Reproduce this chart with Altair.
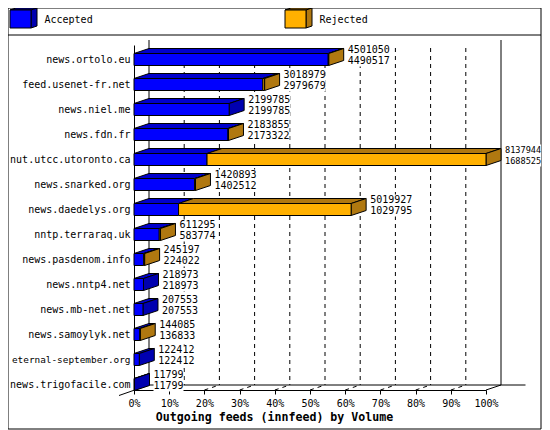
import json
import altair as alt
import pandas as pd

# ---- chart values ----
hosts = ["news.ortolo.eu", "feed.usenet-fr.net", "news.niel.me", "news.fdn.fr",
         "nut.utcc.utoronto.ca", "news.snarked.org", "news.daedelys.org",
         "nntp.terraraq.uk", "news.pasdenom.info", "news.nntp4.net",
         "news.mb-net.net", "news.samoylyk.net", "eternal-september.org",
         "news.trigofacile.com"]
totals = [4501050, 3018979, 2199785, 2183855, 8137944, 1420893, 5019927,
          611295, 245197, 218973, 207553, 144085, 122412, 11799]
accepted = [4490517, 2979679, 2199785, 2173322, 1688525, 1402512, 1029795,
            583774, 224022, 218973, 207553, 136833, 122412, 11799]
series = ["Accepted", "Rejected"]
tick_values = [0, 10, 20, 30, 40, 50, 60, 70, 80, 90, 100]
title_text = "Outgoing feeds (innfeed) by Volume"

# ---- styles and layout ----
FONT = "DejaVu Sans Mono"
BLUE, BLUE_TOP, BLUE_SIDE = "#0000ff", "#0000cc", "#0000b0"
ORANGE, ORANGE_DARK = "#ffb000", "#b07810"
PAD_L, PAD_T, W, H = 126, 37, 352, 345
TOTAL_W, TOTAL_H = 534, 422
PX_X, PX_Y = W / 100, 25
Y_TOP = -14.5 / PX_Y
Y_BOTTOM = (H - 14.5) / PX_Y
DX, DY = 15 / PX_X, 5 / PX_Y
HALF = 6 / PX_Y
RIGHT_EDGE = 8 + TOTAL_W - 1


def xd(px):
    return (px - PAD_L - 8) / PX_X


def yd(px):
    return (px - PAD_T - 8) / PX_Y + Y_TOP


xs = alt.Scale(domain=[0, 100], nice=False, zero=False)
ys = alt.Scale(domain=[Y_BOTTOM, Y_TOP], nice=False, zero=False)
x_axis = alt.Axis(
    values=tick_values, labelExpr="datum.value + '%'", grid=False, tickSize=4,
    tickColor="black", domainColor="black", labelColor="black",
    labelFont=FONT, labelFontSize=10, labelPadding=4, labelOverlap=False,
    labelFlush=False, titleFont=FONT, titleFontSize=11.6, titleFontWeight="bold",
    titleColor="black", titlePadding=3, titleX=140)
y_axis = alt.Axis(
    values=list(range(len(hosts))),
    labelExpr=json.dumps(hosts) + "[datum.value]", grid=False, ticks=False, tickSize=0,
    domainColor="black", labelColor="black", labelFont=FONT,
    labelFontSize={"condition": {"test": "datum.value === 12", "value": 9.4}, "value": 10},
    labelPadding=4, labelOverlap=False, labelFlush=False)
X = alt.X("x:Q", scale=xs, axis=x_axis, title=title_text, stack=False)
Y = alt.Y("y:Q", scale=ys, axis=y_axis, title=None, stack=False)
X2 = alt.X2("x2:Q")
Y2 = alt.Y2("y2:Q")

fronts, tops, sides, white, texts = [], [], [], [], []


def box(a, b, yc, hh, fill, top, side, key, dx=DX, dy=DY):
    fronts.append(dict(x=a, x2=b, y=yc - hh, y2=yc + hh, fill=fill))
    tops.extend([
        dict(k=key, y=yc - hh, x=a, x2=b, fill=top),
        dict(k=key, y=yc - hh - dy, x=a + dx, x2=b + dx, fill=top),
    ])
    if side:
        sides.extend([
            dict(k=key, x=b, y=yc - hh, y2=yc + hh, fill=side),
            dict(k=key, x=b + dx, y=yc - hh - dy, y2=yc + hh - dy, fill=side),
        ])


vmax = max(totals)
for i, (t, acc) in enumerate(zip(totals, accepted)):
    pa, pt = acc / vmax * 100, t / vmax * 100
    rejected = t > acc
    box(0, pa, i, HALF, BLUE, BLUE_TOP, None if rejected else BLUE_SIDE, f"a{i}")
    if rejected:
        box(pa, pt, i, HALF, ORANGE, ORANGE_DARK, ORANGE_DARK, f"r{i}")
    lx = pt + DX + 4 / PX_X
    fs = 8.6 if t == vmax else 10
    for v, off in ((t, -9.5), (acc, 1.5)):
        texts.append(dict(x=lx, y=i + off / PX_Y, label=str(v), fs=fs))
    n = max(len(str(t)), len(str(acc)))
    white.append(dict(x=lx, x2=lx + n * fs * 0.6 / PX_X, y=i - 15 / PX_Y, y2=i + 7 / PX_Y))

# legend swatches and names
for name, px, fc, sc in ((series[0], 10, BLUE, BLUE_SIDE), (series[1], 285, ORANGE, ORANGE_DARK)):
    fronts.append(dict(x=xd(px), x2=xd(px + 21), y=yd(10), y2=yd(28), fill=fc))
    tops.extend([
        dict(k=name, y=yd(10), x=xd(px), x2=xd(px + 21), fill=sc),
        dict(k=name, y=yd(8), x=xd(px + 6), x2=xd(px + 27), fill=sc),
    ])
    sides.extend([
        dict(k=name, x=xd(px + 21), y=yd(10), y2=yd(28), fill=sc),
        dict(k=name, x=xd(px + 27), y=yd(8), y2=yd(26), fill=sc),
    ])
    texts.append(dict(x=xd(px + 34.5), y=yd(20), label=name, fs=10))

# walls, floor and frame
solid = [
    dict(x=DX, x2=DX, y=yd(40), y2=yd(385)),
    dict(x=100 + DX, x2=100 + DX, y=yd(40), y2=yd(385)),
    dict(x=DX, x2=xd(525.5), y=yd(385), y2=yd(385)),
    dict(x=100, x2=100 + DX, y=Y_BOTTOM, y2=yd(385)),
    dict(x=xd(119), x2=DX, y=yd(395.5), y2=yd(385)),
    dict(x=xd(8), x2=xd(RIGHT_EDGE), y=yd(35), y2=yd(35)),
    dict(x=xd(8), x2=xd(RIGHT_EDGE), y=yd(8), y2=yd(8)),
    dict(x=xd(8), x2=xd(8), y=yd(8), y2=yd(429)),
    dict(x=xd(RIGHT_EDGE), x2=xd(RIGHT_EDGE), y=yd(8), y2=yd(429)),
    dict(x=xd(8), x2=xd(RIGHT_EDGE), y=yd(429), y2=yd(429)),
]
grid_back = [dict(x=v + DX, x2=v + DX, y=yd(48), y2=yd(385)) for v in tick_values[1:-1]]
grid_floor = [dict(x=v, x2=v + DX, y=Y_BOTTOM, y2=yd(385)) for v in tick_values[1:-1]]


def rules(rows, **kw):
    return alt.Chart(pd.DataFrame(rows)).mark_rule(color="black", strokeWidth=1, **kw).encode(
        x=X, x2=X2, y=Y, y2=Y2)


white_layer = alt.Chart(pd.DataFrame(white)).mark_rect(color="white").encode(x=X, x2=X2, y=Y, y2=Y2)
front_layer = alt.Chart(pd.DataFrame(fronts)).mark_rect(stroke="black", strokeWidth=1).encode(
    x=X, x2=X2, y=Y, y2=Y2, fill=alt.Fill("fill:N", scale=None))
top_layer = alt.Chart(pd.DataFrame(tops)).mark_area(
    orient="horizontal", stroke="black", strokeWidth=1).encode(
    x=X, x2=X2, y=Y, detail="k:N", fill=alt.Fill("fill:N", scale=None))
side_layer = alt.Chart(pd.DataFrame(sides)).mark_area(
    orient="vertical", stroke="black", strokeWidth=1).encode(
    x=X, y=Y, y2=Y2, detail="k:N", fill=alt.Fill("fill:N", scale=None))
text_layer = alt.Chart(pd.DataFrame(texts)).mark_text(
    font=FONT, align="left", baseline="middle", color="black").encode(
    x=X, y=Y, text="label:N", size=alt.Size("fs:Q", scale=None, legend=None))

chart = alt.layer(
    rules(solid),
    rules(grid_back, strokeDash=[4, 4]),
    rules(grid_floor, strokeDash=[4, 4]),
    top_layer,
    side_layer,
    front_layer,
    white_layer,
    text_layer,
).properties(
    width=W, height=H, background="white",
    autosize=alt.AutoSizeParams(type="none"),
    padding={"left": PAD_L, "top": PAD_T, "right": TOTAL_W - PAD_L - W, "bottom": TOTAL_H - PAD_T - H},
).configure_view(stroke=None)

chart.save("out.html", embed_options={"renderer": "svg", "actions": False})
